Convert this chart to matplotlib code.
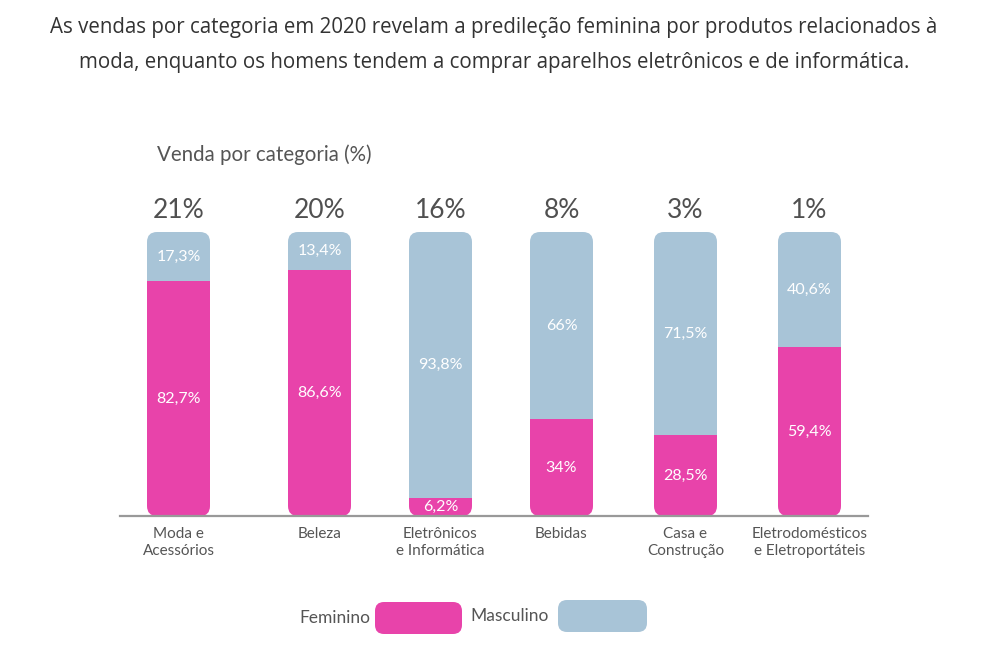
import matplotlib
matplotlib.use("Agg")
import matplotlib.pyplot as plt
from matplotlib.patches import FancyBboxPatch

plt.rcParams['font.family'] = ['Lato', 'DejaVu Sans']

# dados --------------------------------------------
categorias = ["Moda e\nAcessórios", "Beleza", "Eletrônicos\ne Informática",
              "Bebidas", "Casa e\nConstrução", "Eletrodomésticos\ne Eletroportáteis"]
participacao = [21, 20, 16, 8, 3, 1]
feminino = [82.7, 86.6, 6.2, 34, 28.5, 59.4]
masculino = [17.3, 13.4, 93.8, 66, 71.5, 40.6]

titulo = ("As vendas por categoria em 2020 revelam a predileção feminina por produtos relacionados à\n"
          "moda, enquanto os homens tendem a comprar aparelhos eletrônicos e de informática.")

# layout (pixels)
x_pos = [178.5, 319.5, 440.5, 561.5, 685.5, 809.5]
larg = 63
rosa = "#e843aa"
azul = "#a8c4d7"
cinza = "#555555"

W, H = 1008, 670
fig = plt.figure(figsize=(W / 100, H / 100), dpi=100)

# eixo de fundo em pixels para textos e legenda
bg = fig.add_axes([0, 0, 1, 1])
bg.set_xlim(0, W)
bg.set_ylim(H, 0)
bg.axis('off')

# eixo das barras: y=0 em 516px, y=100 em 232px
y0, y100 = 516, 232
ax = fig.add_axes([120 / W, (H - y0) / H, (868 - 120) / W, (y0 - y100) / H])
ax.set_xlim(120, 868)
ax.set_ylim(0, 100)
ax.patch.set_visible(False)
for s in ['top', 'left', 'right']:
    ax.spines[s].set_visible(False)
ax.spines['bottom'].set_color("#999999")
ax.spines['bottom'].set_linewidth(1.6)
ax.set_yticks([])
ax.set_xticks(x_pos)
ax.set_xticklabels(categorias, fontsize=11, color=cinza, linespacing=1.3)
ax.tick_params(axis='x', length=0, pad=8)

def fmt(v):
    return f"{v:g}".replace('.', ',') + "%"

aspecto = 100 / (y0 - y100)
for i in range(len(categorias)):
    forma = FancyBboxPatch((x_pos[i] - larg / 2, 0), larg, 100,
                           boxstyle="round,pad=0,rounding_size=10",
                           mutation_aspect=aspecto, fc='none', ec='none')
    ax.add_patch(forma)
    b1 = ax.bar(x_pos[i], feminino[i], width=larg, color=rosa)
    b2 = ax.bar(x_pos[i], masculino[i], width=larg, bottom=feminino[i], color=azul)
    for b in list(b1) + list(b2):
        b.set_clip_path(forma)
    ax.text(x_pos[i], feminino[i] / 2, fmt(feminino[i]), ha='center', va='center',
            color='white', fontsize=11.5)
    ax.text(x_pos[i], feminino[i] + masculino[i] / 2, fmt(masculino[i]), ha='center',
            va='center', color='white', fontsize=11.5)
    ax.text(x_pos[i], 103, f"{participacao[i]}%", ha='center', va='bottom',
            color="#505050", fontsize=19)

# textos
bg.text(494, 45, titulo, ha='center', va='center', fontsize=14.8, color="#333333",
        linespacing=1.85, family=['Open Sans', 'DejaVu Sans'])
bg.text(157, 155, "Venda por categoria (%)", ha='left', va='center', fontsize=14.8,
        color=cinza)

# legenda
bg.text(370, 618, "Feminino", ha='right', va='center', fontsize=12.5, color=cinza)
bg.add_patch(FancyBboxPatch((375, 602), 87, 32, boxstyle="round,pad=0,rounding_size=9",
                            fc=rosa, ec='none'))
bg.text(470, 616, "Masculino", ha='left', va='center', fontsize=12.5, color=cinza)
bg.add_patch(FancyBboxPatch((558, 600), 89, 32, boxstyle="round,pad=0,rounding_size=9",
                            fc=azul, ec='none'))

fig.savefig("out.png", dpi=100)
